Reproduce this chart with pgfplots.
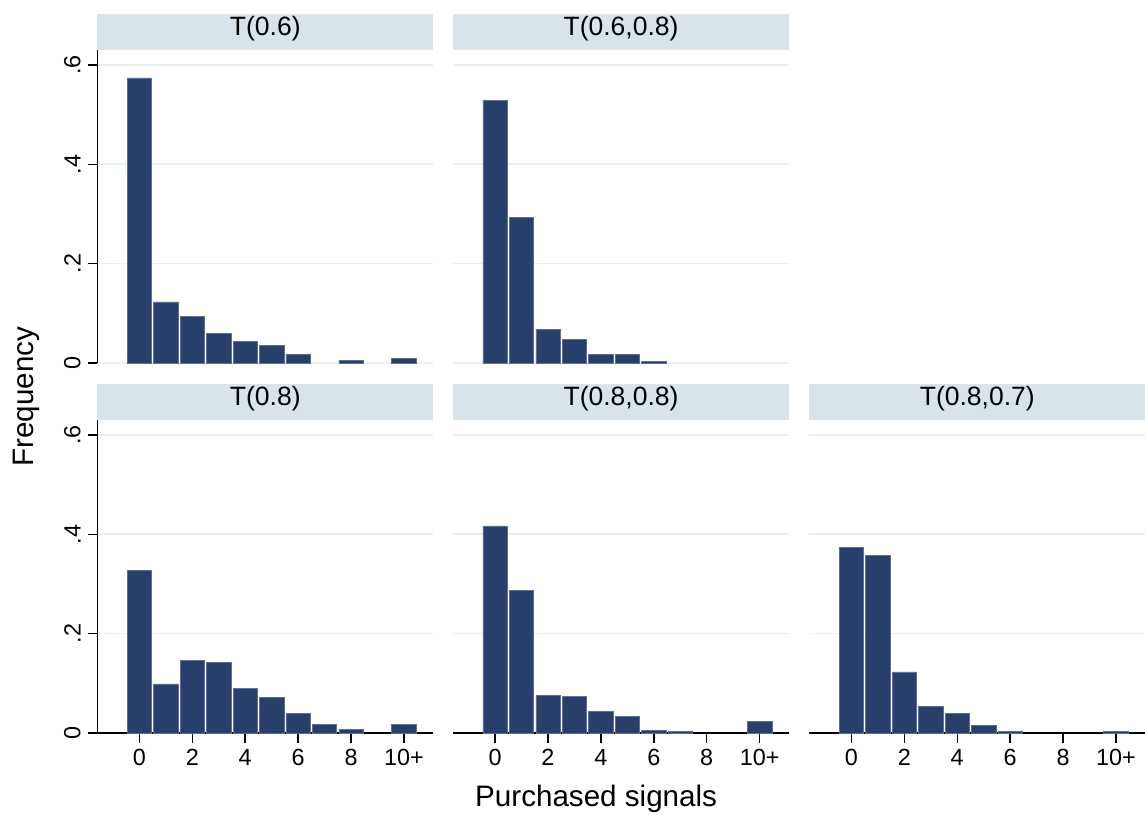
\documentclass[border=0pt]{standalone}
\usepackage{fontspec}
\setmainfont{Liberation Sans}
\usepackage{pgfplots}
\pgfplotsset{compat=1.18}
\definecolor{barc}{RGB}{40,63,108}
\definecolor{stripc}{RGB}{216,228,234}
\definecolor{gridc}{RGB}{232,240,243}
\pgfplotsset{
  panel/.style={
    scale only axis, width=168bp, height=156.5bp,
    xmin=-1.59, xmax=11.11, ymin=0, ymax=0.63,
    ybar, bar width=0.92,
    axis lines*=left,
    tick align=outside, major tick length=4.8bp,
    /pgf/number format/assume math mode=true,
    ytick={0,0.2,0.4,0.6}, yticklabels={0,.2,.4,.6},
    xtick={0,2,4,6,8,10}, xticklabels={0,2,4,6,8,10+},
    ymajorgrids, major grid style={draw=gridc, line width=0.8bp},
    axis line style={line width=0.7bp, black},
    tick style={line width=0.7bp, black},
    tick label style={font=\fontsize{11.7bp}{14bp}\selectfont},
    yticklabel style={rotate=90, anchor=south},
    every axis title/.style={at={(0.5,1)}, anchor=south, fill=stripc,
      minimum width=168bp, minimum height=18bp, inner sep=0pt,
      text height=0.72em, text depth=0.3em,
      font=\fontsize{13.25bp}{16bp}\selectfont},
  },
  barsty/.style={fill=barc, draw=barc!75!white, line width=0.3bp},
  toprow/.style={x axis line style={draw=none}, xtick=\empty},
  noy/.style={y axis line style={draw=none}, ymajorticks=false, yticklabels={}},
}
\begin{document}
\begin{tikzpicture}
\useasboundingbox (0,0) rectangle (572.5bp,-407.5bp);
% Panel 1: T(0.6)
\begin{axis}[panel, toprow, at={(48.65bp,-181.5bp)}, anchor=south west, title={T(0.6)}]
\addplot[barsty] coordinates {(0,0.574) (1,0.123) (2,0.093) (3,0.059) (4,0.043) (5,0.036) (6,0.017) (8,0.006) (10,0.009)};
\end{axis}
% Panel 2: T(0.6,0.8)
\begin{axis}[panel, toprow, noy, at={(226.5bp,-181.5bp)}, anchor=south west, title={T(0.6,0.8)}]
\addplot[barsty] coordinates {(0,0.529) (1,0.293) (2,0.068) (3,0.048) (4,0.017) (5,0.017) (6,0.004)};
\end{axis}
% Panel 3: T(0.8)
\begin{axis}[panel, at={(48.65bp,-366.5bp)}, anchor=south west, title={T(0.8)},
  ylabel={Frequency},
  ylabel style={at={(axis description cs:-0.191,1.075)}, anchor=base, font=\fontsize{14.8bp}{17bp}\selectfont}]
\addplot[barsty] coordinates {(0,0.328) (1,0.099) (2,0.146) (3,0.142) (4,0.089) (5,0.071) (6,0.039) (7,0.017) (8,0.007) (10,0.017)};
\end{axis}
% Panel 4: T(0.8,0.8)
\begin{axis}[panel, noy, at={(226.5bp,-366.5bp)}, anchor=south west, title={T(0.8,0.8)},
  xlabel={Purchased signals},
  xlabel style={at={(axis description cs:0.426,0)}, anchor=base, yshift=-36.5bp, font=\fontsize{14.8bp}{17bp}\selectfont}]
\addplot[barsty] coordinates {(0,0.417) (1,0.287) (2,0.076) (3,0.073) (4,0.043) (5,0.034) (6,0.006) (7,0.003) (10,0.023)};
\end{axis}
% Panel 5: T(0.8,0.7)
\begin{axis}[panel, noy, at={(404.65bp,-366.5bp)}, anchor=south west, title={T(0.8,0.7)}]
\addplot[barsty] coordinates {(0,0.374) (1,0.357) (2,0.123) (3,0.054) (4,0.040) (5,0.016) (6,0.003) (10,0.003)};
\end{axis}
\end{tikzpicture}
\end{document}
